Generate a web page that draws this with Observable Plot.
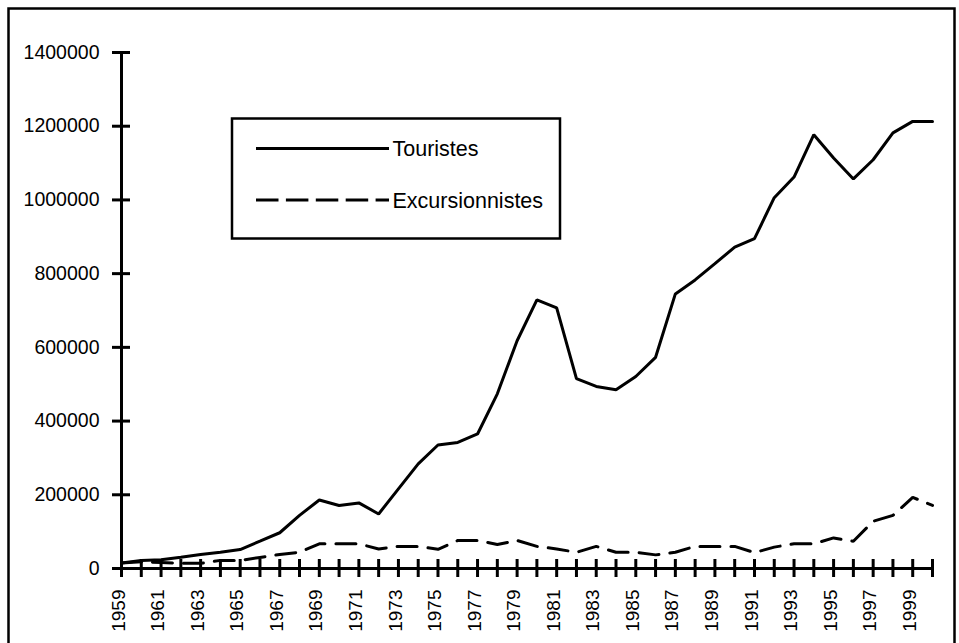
<!DOCTYPE html>
<html>
<head>
<meta charset="utf-8">
<script src="https://cdn.jsdelivr.net/npm/d3@7"></script>
<script src="https://cdn.jsdelivr.net/npm/@observablehq/plot@0.6"></script>
<style>
  html, body { margin: 0; padding: 0; background: #fff; }
  #chart { position: relative; width: 959px; height: 643px; }
</style>
</head>
<body>
<div id="chart"></div>
<script>
const years = [1959, 1960, 1961, 1962, 1963, 1964, 1965, 1966, 1967, 1968,
  1969, 1970, 1971, 1972, 1973, 1974, 1975, 1976, 1977, 1978,
  1979, 1980, 1981, 1982, 1983, 1984, 1985, 1986, 1987, 1988,
  1989, 1990, 1991, 1992, 1993, 1994, 1995, 1996, 1997, 1998,
  1999, 2000];
const touristes = [15000, 21700, 23600, 30700, 38000, 44000, 51500, 74000, 97000, 144000,
  186000, 171000, 178000, 148000, 216000, 284000, 335000, 342000, 365000, 474000,
  618000, 729000, 707000, 515000, 494000, 485000, 521000, 573000, 745000, 783000,
  827000, 872000, 895000, 1006000, 1062000, 1177000, 1114000, 1057000, 1109000, 1182000,
  1213000, 1213000];
const excursionnistes = [15000, 18000, 16000, 14000, 14000, 22000, 22000, 30000, 38000, 44000,
  67000, 67000, 67000, 53000, 60000, 60000, 52000, 76000, 76000, 65000,
  76000, 60000, 53000, 44000, 60000, 44000, 44000, 37000, 44000, 60000,
  60000, 60000, 43000, 58000, 67000, 67000, 83000, 74000, 128000, 144000,
  193000, 171000];
const yTicks = [0, 200000, 400000, 600000, 800000, 1000000, 1200000, 1400000];
const xLabelYears = [1959, 1961, 1963, 1965, 1967, 1969, 1971, 1973, 1975, 1977, 1979,
  1981, 1983, 1985, 1987, 1989, 1991, 1993, 1995, 1997, 1999];
const seriesNames = ["Touristes", "Excursionnistes"];

const dataT = years.map((y, i) => ({year: y, value: touristes[i]}));
const dataE = years.map((y, i) => ({year: y, value: excursionnistes[i]}));

const font = "'Liberation Sans', Arial, Helvetica, sans-serif";

const plot = Plot.plot({
  width: 959,
  height: 643,
  marginLeft: 121,
  marginRight: 27,
  marginTop: 52,
  marginBottom: 75,
  style: {fontFamily: font, fontSize: "19.5px", color: "#000", background: "#fff"},
  x: {domain: [1959, 2000], axis: null, label: null},
  y: {domain: [0, 1400000], axis: null, label: null},
  marks: [
    Plot.axisY({ticks: yTicks, tickSize: 18, tickPadding: 13, dx: 9, strokeWidth: 3,
      tickFormat: d => String(d), fontSize: 19.5, label: null}),
    Plot.axisX({ticks: years, tickSize: 18, dy: -9, strokeWidth: 3, tickFormat: () => "", label: null}),
    Plot.axisX({ticks: xLabelYears, tickSize: 0, tickPadding: 21, tickRotate: -90,
      tickFormat: d => String(d), fontSize: 19, dx: -3, label: null}),
    Plot.ruleX([1959], {strokeWidth: 3}),
    Plot.ruleY([0], {strokeWidth: 3}),
    Plot.line(dataE, {x: "year", y: "value", stroke: "#000", strokeWidth: 3,
      strokeDasharray: "20,11", strokeLinejoin: "miter"}),
    Plot.line(dataT, {x: "year", y: "value", stroke: "#000", strokeWidth: 3,
      strokeLinejoin: "miter"})
  ]
});

const svg = d3.select(plot);
// outer border
svg.append("rect").attr("x", 8.5).attr("y", 8.5).attr("width", 946).attr("height", 640)
  .attr("fill", "none").attr("stroke", "#000").attr("stroke-width", 2.5);
// legend
const lg = svg.append("g").attr("font-family", font).attr("font-size", 21.5)
  .attr("text-anchor", "start");
lg.append("rect").attr("x", 232).attr("y", 118.5).attr("width", 328).attr("height", 120)
  .attr("fill", "#fff").attr("stroke", "#000").attr("stroke-width", 2.5);
lg.append("line").attr("x1", 256).attr("x2", 389).attr("y1", 148.5).attr("y2", 148.5)
  .attr("stroke", "#000").attr("stroke-width", 3);
lg.append("text").attr("x", 392.5).attr("y", 156).attr("fill", "#000").text(seriesNames[0]);
lg.append("line").attr("x1", 256).attr("x2", 389).attr("y1", 200).attr("y2", 200)
  .attr("stroke", "#000").attr("stroke-width", 3).attr("stroke-dasharray", "22.5,7.4");
lg.append("text").attr("x", 392.5).attr("y", 207.5).attr("fill", "#000").text(seriesNames[1]);

document.getElementById("chart").appendChild(plot);
</script>
</body>
</html>
